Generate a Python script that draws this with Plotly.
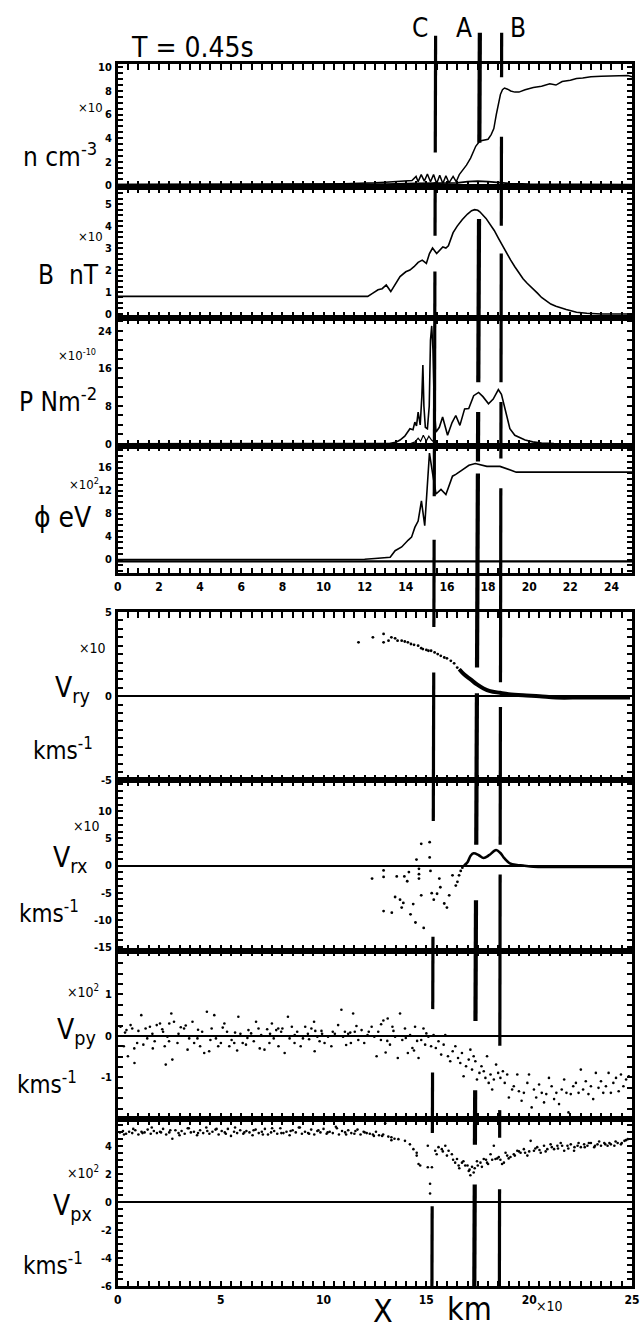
import plotly.graph_objects as go

W, H = 643, 1333
FONT = "DejaVu Sans Condensed, Liberation Sans Narrow, Arial Narrow, sans-serif"

# ---------------- data ----------------
# density n (x10 cm^-3)
n_x = [0, 4, 8, 10, 11, 12, 12.5, 13, 13.5, 14,
       14.3, 14.5, 14.6, 14.75, 14.9, 15.05, 15.2, 15.35, 15.5, 15.65,
       15.8, 15.95, 16.1, 16.3, 16.45, 16.6, 16.75, 16.95, 17.15, 17.4,
       17.6, 17.8, 18.0, 18.15, 18.28, 18.4, 18.5, 18.6, 18.7, 18.8,
       18.95, 19.1, 19.3, 19.5, 19.8, 20.2, 20.6, 21.0, 21.3, 21.6,
       22.0, 22.3, 22.6, 23.0, 23.5, 24.0, 24.5, 24.8, 25]
n_y = [0.05, 0.05, 0.08, 0.1, 0.12, 0.15, 0.2, 0.25, 0.3, 0.35,
       0.4, 0.75, 0.3, 0.9, 0.35, 0.95, 0.3, 0.9, 0.15, 0.85,
       0.15, 0.8, 0.2, 0.75, 0.3, 0.9, 1.25, 1.7, 2.3, 3.3,
       3.75, 3.85, 3.9, 4.3, 4.8, 6.0, 7.0, 7.7, 8.1, 8.25,
       8.15, 8.0, 7.9, 7.9, 8.1, 8.3, 8.4, 8.6, 8.5, 8.8,
       8.9, 9.05, 9.1, 9.2, 9.25, 9.25, 9.25, 9.3, 9.2]
n2_x = [0, 10, 13, 14.5, 15.5, 16.5, 17.0, 17.5, 18.0, 18.5, 19.0, 20.0, 21.0, 25]
n2_y = [0.05, 0.05, 0.1, 0.15, 0.15, 0.2, 0.3, 0.35, 0.3, 0.2, 0.15, 0.1, 0.08, 0.05]

# magnetic field B (x10 nT)
b_x = [0, 12.15, 12.4, 12.65, 12.85, 13.05, 13.27, 13.5, 13.72, 14.0,
       14.2, 14.4, 14.6, 14.8, 15.0, 15.15, 15.3, 15.5, 15.65, 15.8,
       15.95, 16.07, 16.3, 16.5, 16.75, 17.0, 17.2, 17.35, 17.5, 17.6,
       17.9, 18.1, 18.3, 18.5, 18.7, 18.9, 19.1, 19.3, 19.5, 19.7,
       19.9, 20.15, 20.4, 20.6, 20.85, 21.05, 21.3, 21.55, 21.8, 22.3,
       22.8, 23.5, 25]
b_y = [0.8, 0.8, 0.95, 1.1, 1.15, 1.32, 1.02, 1.35, 1.7, 1.92,
       2.0, 2.15, 2.35, 2.45, 2.3, 2.75, 3.0, 2.75, 2.9, 3.05,
       3.0, 3.1, 3.7, 4.0, 4.3, 4.55, 4.7, 4.75, 4.72, 4.65,
       4.35, 4.1, 3.8, 3.45, 3.1, 2.78, 2.45, 2.15, 1.85, 1.6,
       1.4, 1.15, 0.95, 0.75, 0.57, 0.45, 0.35, 0.26, 0.2, 0.08,
       0.03, 0.0, 0.0]

# pressure P (x1e-10 N m^-2)
p_x = [0, 12.0, 13.2, 13.5, 13.72, 13.95, 14.2, 14.35, 14.44, 14.52,
       14.6, 14.7, 14.78, 14.83, 14.88, 14.95, 15.05, 15.14, 15.2, 15.26,
       15.32, 15.38, 15.47, 15.63, 15.79, 16.03, 16.25, 16.43, 16.63, 16.86,
       17.06, 17.3, 17.54, 17.75, 18.02, 18.25, 18.5, 18.65, 18.82, 19.06,
       19.3, 19.53, 19.8, 20.17, 20.6, 21.2, 22.0, 25]
p_y = [0, 0, 0.05, 0.3, 0.8, 1.6, 3.2, 3.0, 4.6, 3.8,
       6.7, 4.0, 10.0, 16.7, 8.0, 3.5, 3.2, 8.0, 22.0, 25.0,
       20.0, 8.0, 2.5, 3.5, 5.7, 1.8, 4.5, 6.0, 3.9, 7.4,
       7.5, 10.2, 10.9, 10.0, 8.5, 9.5, 11.5, 10.5, 7.4, 3.2,
       1.8, 1.3, 0.8, 0.4, 0.15, 0.05, 0, 0]
p2_x = [0, 14.2, 14.45, 14.6, 14.72, 14.85, 15.0, 15.12, 15.25, 15.4, 15.6, 25]
p2_y = [0, 0, 0.4, 1.2, 0.5, 1.8, 0.6, 1.6, 0.8, 0.3, 0, 0]

# potential phi (x1e2 eV)
phi_x = [0, 11.0, 12.0, 12.5, 12.84, 13.24, 13.48, 13.8, 14.12, 14.28,
         14.44, 14.6, 14.76, 14.92, 15.04, 15.15, 15.31, 15.47, 15.71, 15.95,
         16.27, 16.43, 16.75, 17.07, 17.38, 17.94, 18.58, 19.0, 19.37, 20.0,
         25]
phi_y = [0, 0, 0.05, 0.2, 0.3, 0.4, 1.55, 2.2, 3.4, 3.9,
         5.6, 6.7, 10.2, 5.9, 12.5, 18.5, 14.8, 11.4, 12.2, 11.3,
         14.5, 14.8, 15.6, 16.4, 16.7, 16.2, 16.2, 15.7, 15.2, 15.2,
         15.2]
phi2_x = [0, 25]
phi2_y = [-0.3, -0.3]

# V_ry (x10 km/s): sparse particles + dense band
vry_x = [11.7, 12.4, 12.92, 12.92, 13.16, 13.3, 13.48, 13.6, 13.8, 13.95,
         14.1, 14.25, 14.4, 14.6, 14.75, 14.83, 15.0, 15.1, 15.23, 15.4,
         15.55, 15.7, 15.87, 16.0, 16.19, 16.35, 16.5, 16.65]
vry_y = [3.2, 3.5, 3.7, 3.2, 3.3, 3.5, 3.44, 3.3, 3.3, 3.25,
         3.2, 3.1, 3.05, 3.0, 2.85, 2.8, 2.75, 2.7, 2.7, 2.6,
         2.5, 2.4, 2.3, 2.25, 2.1, 1.95, 1.7, 1.55]
vry_band_x = [16.6, 16.83, 17.15, 17.46, 17.78, 18.1, 18.58, 19.0, 19.7, 20.5, 21.3, 22.5, 23.5, 24.9]
vry_band_y = [1.6, 1.3, 1.0, 0.7, 0.46, 0.3, 0.2, 0.12, 0.05, 0.0, -0.08, -0.08, -0.08, -0.08]

# V_rx (x10 km/s)
vrx_x = [12.36, 12.92, 12.92, 12.92, 13.32, 13.48, 13.56, 13.72, 13.8, 13.88, 13.93,
         14.07, 14.15, 14.23, 14.36, 14.47, 14.52, 14.64, 14.64, 14.64, 14.75,
         14.75, 14.87, 15.16, 15.16, 15.2, 15.26, 15.36, 15.52, 15.63, 15.68,
         15.87, 16.0, 16.11, 16.27, 16.43, 16.51, 16.59, 16.67, 16.75]
vrx_y = [-2.4, -0.9, -2.1, -8.4, -8.7, -5.8, -2.0, -6.3, -7.75, -6.9, -2.0,
         -2.9, -1.2, -9.0, -7.1, -10.5, 1.1, -0.6, -1.6, -2.4, 4.0,
         -5.5, -11.5, 4.3, 1.5, -1.0, -5.1, -6.3, -5.2, -2.4, -4.0,
         -7.0, -7.75, -5.5, -1.8, -3.7, -3.0, -1.8, -1.0, -0.4]
vrx_line_x = [16.83, 17.0, 17.15, 17.3, 17.55, 17.78, 18.05, 18.39, 18.6, 18.8,
              19.06, 19.4, 19.7, 20.2, 21.0, 22.0, 23.0, 24.0, 25.0]
vrx_line_y = [0.0, 0.6, 1.8, 2.25, 1.9, 1.4, 1.9, 2.85, 2.3, 1.3,
              0.4, 0.1, 0.0, -0.2, -0.25, -0.25, -0.25, -0.25, -0.25]

# V_py (x1e2 km/s)
vpy_x = [0.13, 0.29, 0.42, 0.49, 0.62, 0.70, 0.81, 0.94, 1.14, 1.24,
         1.35, 1.43, 1.56, 1.68, 1.79, 1.89, 2.05, 2.16, 2.28, 2.33,
         2.41, 2.49, 2.60, 2.65, 2.73, 2.90, 3.06, 3.22, 3.39, 3.47,
         3.63, 3.71, 3.87, 4.00, 4.20, 4.33, 4.44, 4.56, 4.69, 4.77,
         4.88, 5.01, 5.18, 5.31, 5.42, 5.53, 5.66, 5.86, 5.96, 6.07,
         6.23, 6.35, 6.48, 6.61, 6.72, 6.84, 6.97, 7.13, 7.26, 7.37,
         7.49, 7.58, 7.70, 7.81, 7.94, 8.11, 8.27, 8.35, 8.46, 8.59,
         8.72, 8.89, 9.00, 9.11, 9.24, 9.41, 9.54, 9.57, 9.70, 9.81,
         9.93, 10.05, 10.22, 10.38, 10.55, 10.71, 10.87, 10.95, 11.04, 11.20,
         11.33, 11.44, 11.52, 11.69, 11.85, 11.98, 12.14, 12.34, 12.47, 12.58,
         12.66, 12.79, 12.91, 13.02, 13.12, 13.23, 13.35, 13.48, 13.61, 13.72,
         13.83, 13.96, 14.10, 14.21, 14.32, 14.45, 14.62, 14.75, 14.86, 14.94,
         15.10, 15.23, 15.35, 15.46, 15.59, 15.72, 15.84, 15.92, 16.05, 16.16,
         16.28, 16.41, 16.54, 16.65, 16.73, 16.81, 16.93, 17.06, 17.14, 17.22,
         17.30, 17.38, 17.46, 17.58, 17.68, 17.79, 17.87, 17.95, 18.03, 18.12,
         18.20, 18.28, 18.39, 18.49, 18.60, 18.72, 18.81, 18.93, 19.01, 19.17,
         19.25, 19.42, 19.50, 19.63, 19.74, 19.91, 19.99, 20.12, 20.23, 20.34,
         20.48, 20.61, 20.72, 20.83, 20.96, 21.09, 21.21, 21.32, 21.45, 21.58,
         21.70, 21.81, 21.91, 22.02, 22.14, 22.27, 22.40, 22.51, 22.62, 22.75,
         22.88, 23.00, 23.11, 23.24, 23.37, 23.49, 23.60, 23.73, 23.86, 23.97,
         24.09, 24.22, 24.35, 24.46, 24.58, 24.71, 24.84]
vpy_y = [0.22, -0.25, 0.14, -0.49, 0.26, 0.18, -0.65, -0.17, 0.50, -0.21,
         0.18, -0.06, 0.22, 0.05, -0.13, 0.26, 0.30, 0.16, -0.25, -0.69,
         -0.02, -0.13, 0.54, -0.57, 0.34, -0.17, 0.21, 0.18, -0.33, -0.06,
         0.34, -0.17, -0.06, -0.25, -0.41, 0.58, -0.37, 0.18, 0.50, -0.06,
         -0.25, -0.17, 0.30, 0.10, -0.25, -0.10, -0.17, 0.46, 0.05, -0.17,
         -0.21, 0.14, 0.06, -0.13, 0.34, 0.18, 0.02, -0.33, 0.16, -0.17,
         0.30, -0.06, 0.14, -0.25, 0.10, -0.41, 0.46, -0.06, 0.22, -0.17,
         0.10, -0.25, -0.06, 0.22, 0.05, 0.18, 0.34, -0.37, -0.02, -0.13,
         0.05, -0.17, -0.02, -0.25, 0.05, 0.26, 0.63, -0.02, 0.10, 0.05,
         -0.17, 0.54, 0.10, -0.10, 0.14, -0.17, 0.02, 0.22, -0.02, -0.49,
         0.10, -0.10, 0.37, -0.40, 0.42, -0.21, 0.22, -0.02, -0.53, 0.54,
         -0.10, 0.18, -0.41, 0.02, -0.29, 0.22, -0.53, -0.10, 0.18, -0.21,
         -0.02, -0.25, 0.02, -0.29, -0.13, -0.45, -0.21, 0.02, -0.49, -0.61,
         -0.37, -0.25, -0.53, -0.65, -0.41, -0.97, -0.73, -0.57, -0.33, -0.81,
         -0.49, -0.61, -1.05, -0.89, -0.73, -0.85, -1.01, -0.49, -1.13, -0.93,
         -1.29, -1.05, -0.69, -0.89, -1.01, -0.85, -1.13, -0.93, -1.48, -1.29,
         -1.21, -0.93, -1.33, -1.56, -1.37, -1.13, -0.93, -1.72, -1.29, -1.48,
         -1.17, -1.37, -1.60, -1.40, -1.01, -1.21, -1.52, -1.37, -1.64, -1.29,
         -1.05, -1.37, -1.84, -1.40, -1.21, -1.13, -1.37, -0.81, -1.29, -1.09,
         -1.40, -1.21, -1.52, -0.89, -1.25, -1.09, -1.37, -1.21, -0.89, -1.37,
         -1.13, -1.01, -1.33, -0.93, -1.21, -1.05, -0.97]
vpy2_x = [0.35, 1.0, 1.7, 2.2, 2.95, 3.3, 3.9, 4.5, 5.1, 5.7,
          6.3, 6.9, 7.4, 8.0, 8.6, 9.3, 9.9, 10.45, 11.1, 11.6,
          12.2, 12.8, 13.4, 14.0, 14.55, 15.0, 0.8, 2.5, 4.1, 5.8,
          7.8, 9.6, 11.3, 13.1, 14.4]
vpy2_y = [0.08, 0.12, -0.3, 0.1, 0.05, 0.25, 0.15, -0.1, 0.2, 0.08,
          -0.05, -0.3, 0.05, 0.18, 0.02, -0.08, 0.12, 0.1, -0.22, 0.24,
          0.1, 0.28, 0.12, -0.05, -0.12, 0.06, -0.3, 0.3, 0.1, -0.35,
          0.18, 0.12, 0.08, -0.12, -0.35]

# V_px (x1e2 km/s)
vpx_x = [0.1, 0.25, 0.4, 0.55, 0.7, 0.85, 1.0, 1.15, 1.3, 1.45,
         1.6, 1.75, 1.9, 2.05, 2.2, 2.35, 2.5, 2.65, 2.8, 2.95,
         3.1, 3.25, 3.4, 3.55, 3.7, 3.85, 4.0, 4.15, 4.3, 4.45,
         4.6, 4.75, 4.9, 5.05, 5.2, 5.35, 5.5, 5.65, 5.8, 5.95,
         6.1, 6.25, 6.4, 6.55, 6.7, 6.85, 7.0, 7.15, 7.3, 7.45,
         7.6, 7.75, 7.9, 8.05, 8.2, 8.35, 8.5, 8.65, 8.8, 8.95,
         9.1, 9.25, 9.4, 9.55, 9.7, 9.85, 10.0, 10.15, 10.3, 10.45,
         10.6, 10.75, 10.9, 11.05, 11.2, 11.35, 11.5, 11.65, 11.8, 11.95,
         12.1, 12.25, 12.4, 12.55, 12.7, 12.85, 13.0, 13.15, 13.3, 13.45]
vpx_y = [4.95, 5.05, 4.85, 5.0, 4.9, 5.1, 4.8, 5.0, 4.95, 5.15,
         4.85, 5.05, 4.9, 5.0, 5.2, 4.8, 4.95, 4.5, 5.1, 4.9,
         5.05, 4.85, 5.25, 4.95, 5.0, 4.75, 5.1, 4.9, 5.3, 4.85,
         5.0, 5.15, 4.8, 5.05, 4.95, 5.2, 4.7, 5.0, 4.9, 5.1,
         4.85, 5.05, 4.95, 4.75, 5.15, 4.9, 5.0, 5.2, 4.8, 4.95,
         5.05, 4.85, 5.25, 4.9, 5.0, 4.75, 5.1, 4.95, 5.3, 4.85,
         5.0, 4.9, 5.15, 4.8, 5.05, 4.95, 5.2, 4.85, 5.0, 4.9,
         5.35, 4.8, 5.05, 4.95, 5.1, 4.9, 4.85, 5.15, 4.8, 5.0,
         4.9, 4.85, 4.8, 5.0, 4.75, 4.7, 5.6, 4.65, 4.6, 4.5]
vpx2_x = [0.3, 0.75, 1.2, 1.65, 2.1, 2.55, 3.0, 3.45, 3.9, 4.35,
          4.8, 5.25, 5.7, 6.15, 6.6, 7.05, 7.5, 7.95, 8.4, 8.85,
          9.3, 9.75, 10.2, 10.65, 11.1, 11.55, 12.0, 12.45, 12.9, 13.3]
vpx2_y = [4.8, 5.2, 4.9, 5.3, 4.95, 5.1, 4.75, 5.25, 4.9, 5.05,
          5.2, 4.85, 5.3, 4.95, 5.1, 4.8, 5.25, 4.9, 5.05, 5.3,
          4.85, 5.1, 4.95, 5.25, 4.8, 5.05, 4.95, 4.7, 4.8, 4.4]
vpx3_x = [13.64, 13.96, 14.2, 14.37, 14.53, 14.62, 14.53, 14.7, 15.07, 15.07,
          15.18, 15.18, 15.27, 15.43, 15.59, 15.75, 15.92, 16.08, 16.24, 16.4,
          16.49, 16.57, 16.73, 16.89, 17.06, 17.14, 17.22, 17.3, 17.46, 17.63,
          17.79, 17.95, 18.12, 18.28, 18.36, 18.52, 18.68, 18.77, 18.93, 19.09,
          19.25, 19.42, 19.58, 19.74, 19.91, 20.07, 20.23, 20.39, 20.56, 20.72,
          20.88, 21.04, 21.21, 21.37, 21.53, 21.7, 21.86, 22.02, 22.18, 22.35,
          22.51, 22.67, 22.83, 23.0, 23.16, 23.32, 23.49, 23.65, 23.81, 23.97,
          24.14, 24.3, 24.46, 24.63, 24.79]
vpx3_y = [4.47, 4.35, 4.1, 3.76, 3.3, 2.7, 3.5, 2.6, 4.0, 2.47,
          1.3, 0.6, 2.47, 3.65, 3.9, 3.76, 4.0, 3.65, 3.4, 2.8,
          3.06, 2.6, 2.8, 2.6, 2.2, 1.9, 2.5, 2.1, 2.9, 2.8,
          3.06, 2.8, 3.4, 4.0, 3.06, 3.2, 2.7, 2.8, 3.3, 3.2,
          3.4, 3.65, 3.5, 3.76, 3.3, 4.35, 3.65, 3.9, 3.5, 4.0,
          3.76, 4.1, 3.76, 4.0, 4.2, 3.65, 4.0, 4.1, 3.65, 4.0,
          3.9, 4.1, 4.0, 4.2, 3.9, 4.1, 4.0, 4.2, 4.0, 4.1,
          4.0, 4.2, 4.1, 4.35, 4.47]
vpx4_x = [15.5, 15.8, 16.0, 16.3, 16.6, 16.8, 17.0, 17.1, 17.35, 17.5,
          17.7, 17.9, 18.0, 18.2, 18.45, 18.6, 18.85, 19.0, 19.3, 19.5,
          19.8, 20.0, 20.3, 20.5, 20.8, 21.1, 21.4, 21.6, 21.9, 22.2,
          22.4, 22.7, 22.9, 23.2, 23.4, 23.7, 23.9, 24.2, 24.5, 24.7]
vpx4_y = [3.4, 3.6, 3.3, 3.0, 2.4, 2.9, 2.6, 2.3, 2.4, 2.6,
          2.5, 3.0, 2.7, 3.0, 3.1, 3.0, 3.5, 3.1, 3.3, 3.6,
          3.5, 3.6, 3.8, 3.7, 3.6, 3.9, 3.8, 4.0, 3.8, 3.9,
          4.2, 3.9, 4.2, 4.0, 4.3, 4.1, 4.2, 4.3, 4.2, 4.4]

# structure markers C, A, B (x position at the top and at the bottom of the figure)
mark_names = ["C", "A", "B"]
mark_x_top = [15.45, 17.6, 18.66]
mark_x_bot = [15.27, 17.33, 18.55]

# labelled axis ticks
top_xlabels = [0, 2, 4, 6, 8, 10, 12, 14, 16, 18, 20, 22, 24]
bot_xlabels = [0, 5, 10, 15, 20, 25]

# ---------------- layout helpers ----------------
def py(p):
    return 1 - p / H

def px(p):
    return p / W

X0, X1 = 116 / W, 640 / W

panels = [
    dict(top=59, bot=183, yr=[-0.17, 10.25], tv=[0, 2, 4, 6, 8, 10], step=0.5, zl=False),
    dict(top=183, bot=315, yr=[-0.18, 5.77], tv=[0, 1, 2, 3, 4, 5], step=0.25, zl=False),
    dict(top=315, bot=444, yr=[-0.4, 26.7], tv=[0, 8, 16, 24], step=2, zl=False),
    dict(top=444, bot=573, yr=[-2.4, 19.8], tv=[0, 4, 8, 12, 16], step=1, zl=False),
    dict(top=612, bot=782, yr=[-5, 5], tv=[-5, 0, 5], step=0.5, zl=True),
    dict(top=782, bot=954, yr=[-15.7, 15.7], tv=[-15, -10, -5, 0, 5, 10], step=1.25, zl=True),
    dict(top=954, bot=1124, yr=[-2.0, 2.05], tv=[-1, 0, 1], step=0.25, zl=True),
    dict(top=1124, bot=1293, yr=[-6.0, 5.9], tv=[-6, -4, -2, 0, 2, 4], step=0.5, zl=True),
]

def tick_grid(lo, hi, step, labelled):
    vals = []
    k0 = int(lo // step) - 1
    k1 = int(hi // step) + 2
    for k in range(k0, k1):
        v = round(k * step, 6)
        if lo - 1e-9 <= v <= hi + 1e-9:
            vals.append(v)
    for v in labelled:
        if v not in vals:
            vals.append(v)
    texts = [("%g" % v) if (v in labelled) else "" for v in vals]
    return vals, texts

fig = go.Figure()

def add_line(i, x, y, width=1.6, shape="linear"):
    fig.add_trace(go.Scatter(x=x, y=y, mode="lines",
                             line=dict(color="black", width=width, shape=shape),
                             xaxis=f"x{i}", yaxis=f"y{i}", hoverinfo="skip"))

def add_dots(i, x, y, size=2.6):
    fig.add_trace(go.Scatter(x=x, y=y, mode="markers",
                             marker=dict(color="black", size=size, line=dict(width=0)),
                             xaxis=f"x{i}", yaxis=f"y{i}", hoverinfo="skip"))

add_line(1, n2_x, n2_y, 1.8)
add_line(1, n_x, n_y, 1.5)
add_line(2, b_x, b_y, 1.6)
add_line(3, p2_x, p2_y, 1.2)
add_line(3, p_x, p_y, 1.6)
add_line(4, phi2_x, phi2_y, 2.2)
add_line(4, phi_x, phi_y, 1.6)
add_dots(5, vry_x, vry_y, 2.8)
add_line(5, vry_band_x, vry_band_y, 4.0, "spline")
add_dots(6, vrx_x, vrx_y, 2.8)
add_line(6, vrx_line_x, vrx_line_y, 2.6, "spline")
add_dots(7, vpy_x + vpy2_x, vpy_y + vpy2_y, 2.6)
add_dots(8, vpx_x + vpx2_x + vpx3_x + vpx4_x, vpx_y + vpx2_y + vpx3_y + vpx4_y, 2.6)

tickfont = dict(family=FONT, size=11, color="black", weight="bold")
layout = {}
for k, pnl in enumerate(panels, start=1):
    top_block = k <= 4
    show_xlabels = k in (4, 8)
    xv, xt = tick_grid(0, 25, 0.5, top_xlabels if top_block else bot_xlabels)
    if not show_xlabels:
        xt = ["" for _ in xt]
    layout[f"xaxis{k}"] = dict(
        domain=[X0, X1], anchor=f"y{k}", range=[0, 25],
        tickmode="array", tickvals=xv, ticktext=xt,
        showline=True, linewidth=2.5, linecolor="black", mirror="allticks",
        ticks="inside", ticklen=6, tickwidth=1.6, tickcolor="black",
        showgrid=False, zeroline=False, showticklabels=show_xlabels,
        ticklabeloverflow="allow",
        tickfont=dict(family=FONT, size=12, color="black", weight="bold"),
        fixedrange=True)
    yv, yt = tick_grid(pnl["yr"][0], pnl["yr"][1], pnl["step"], pnl["tv"])
    layout[f"yaxis{k}"] = dict(
        domain=[py(pnl["bot"]), py(pnl["top"])], anchor=f"x{k}", range=pnl["yr"],
        tickmode="array", tickvals=yv, ticktext=yt,
        showline=True, linewidth=2.5, linecolor="black", mirror="allticks",
        ticks="inside", ticklen=5, tickwidth=1.5, tickcolor="black",
        showgrid=False, zeroline=pnl["zl"], zerolinecolor="black", zerolinewidth=1.6,
        tickfont=tickfont, ticklabelstandoff=1, fixedrange=True)

fig.update_layout(**layout)

# vertical structure lines (with gaps like the original hand drawing)
seg_px = {
    "C": [(30, 148), (178, 232), (268, 495), (539, 627), (673, 823), (940, 1013), (1077, 1138), (1212, 1293)],
    "A": [(27, 138), (215, 380), (410, 460), (472, 668), (694, 847), (903, 1025), (1095, 1150), (1190, 1293)],
    "B": [(27, 72), (132, 222), (250, 380), (400, 457), (487, 683), (708, 847), (877, 1050), (1115, 1143), (1195, 1293)],
}
widths = {"C": 3.2, "A": 4.2, "B": 3.2}
shapes = []
for name, xt_, xb_ in zip(mark_names, mark_x_top, mark_x_bot):
    def xat(p, xt_=xt_, xb_=xb_):
        return xt_ + (xb_ - xt_) * (p - 27) / (1293 - 27)
    for p0, p1 in seg_px[name]:
        shapes.append(dict(type="line", xref="x", yref="paper",
                           x0=xat(p0), x1=xat(p1), y0=py(p0), y1=py(p1),
                           line=dict(color="black", width=widths[name]), layer="above"))
fig.update_layout(shapes=shapes)

# text
def ann(text, x, y, size, xanchor="center"):
    fig.add_annotation(text=text, x=px(x), y=py(y), xref="paper", yref="paper",
                       showarrow=False, xanchor=xanchor, yanchor="middle",
                       font=dict(family=FONT, size=size, color="black"))

ann("T = 0.45s", 192, 42, 28)
ann("C", 424, 22, 26)
ann("A", 469, 22, 26)
ann("B", 524, 22, 26)

ann("n cm<sup>-3</sup>", 57, 150, 26)
ann("×10", 88, 102, 13)
ann("B  nT", 66, 272, 26)
ann("×10", 88, 233, 13)
ann("×10<sup>-10</sup>", 74, 352, 13)
ann("P Nm<sup>-2</sup>", 55, 398, 26)
ann("×10<sup>2</sup>", 82, 483, 13)
ann("ϕ eV", 60, 517, 28)

ann("×10", 90, 648, 14)
ann("V<sub>ry</sub>", 70, 690, 28)
ann("kms<sup>-1</sup>", 60, 750, 24)
ann("×10", 84, 828, 14)
ann("V<sub>rx</sub>", 67, 862, 28)
ann("kms<sup>-1</sup>", 46, 915, 24)
ann("×10<sup>2</sup>", 80, 995, 14)
ann("V<sub>py</sub>", 74, 1036, 28)
ann("kms<sup>-1</sup>", 44, 1088, 24)
ann("×10<sup>2</sup>", 80, 1177, 14)
ann("V<sub>px</sub>", 70, 1213, 28)
ann("kms<sup>-1</sup>", 50, 1270, 24)

ann("X", 386, 1318, 32)
ann("km", 474, 1316, 32)
ann("×10", 556, 1313, 14)

fig.update_layout(width=W, height=H, margin=dict(l=0, r=0, t=0, b=0),
                  paper_bgcolor="white", plot_bgcolor="white", showlegend=False,
                  font=dict(family=FONT, color="black"))

fig.write_html("out.html")
